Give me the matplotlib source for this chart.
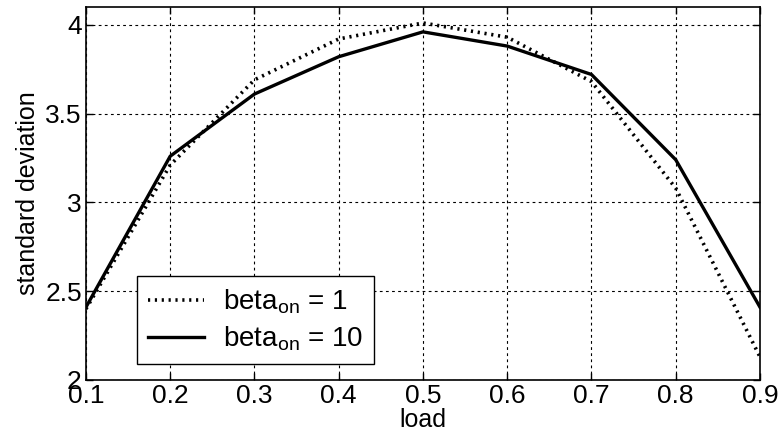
import matplotlib
matplotlib.use("Agg")
import matplotlib.pyplot as plt

plt.rcParams['font.family'] = ['Liberation Sans', 'DejaVu Sans']
plt.rcParams['mathtext.fontset'] = 'custom'
plt.rcParams['mathtext.rm'] = 'Liberation Sans'
plt.rcParams['mathtext.it'] = 'Liberation Sans'

load = [0.1, 0.2, 0.3, 0.4, 0.5, 0.6, 0.7, 0.8, 0.9]
std_beta1 = [2.40, 3.21, 3.69, 3.92, 4.01, 3.93, 3.68, 3.08, 2.13]
std_beta10 = [2.41, 3.26, 3.61, 3.82, 3.96, 3.88, 3.72, 3.24, 2.41]
labels = ['beta$_{\\rm on}$ = 1', 'beta$_{\\rm on}$ = 10']

fig = plt.figure(figsize=(7.83, 4.32), dpi=100)
ax = fig.add_axes([0.1098, 0.1204, 0.8608, 0.8634])

ax.plot(load, std_beta1, color='black', lw=2.6, linestyle=(0, (0.6, 1.3)), label=labels[0])
ax.plot(load, std_beta10, color='black', lw=2.4, linestyle='-', label=labels[1])

ax.set_xlim(0.1, 0.9)
ax.set_ylim(2, 4.1)
ax.set_xticks(load)
ax.set_xticklabels(['0.1', '0.2', '0.3', '0.4', '0.5', '0.6', '0.7', '0.8', '0.9'])
ax.set_yticks([2, 2.5, 3, 3.5, 4])
ax.set_yticklabels(['2', '2.5', '3', '3.5', '4'])
ax.tick_params(direction='in', length=5, width=1, labelsize=19, top=True, right=True, pad=3)
ax.grid(True, color='black', linestyle=(0, (2.5, 3)), linewidth=0.8)
for s in ax.spines.values():
    s.set_linewidth(1.2)

ax.set_xlabel('load', fontsize=18, labelpad=0)
ax.set_ylabel('standard deviation', fontsize=18, labelpad=4)

leg = ax.legend(loc='lower left', bbox_to_anchor=(0.0757, 0.043), borderaxespad=0,
                fontsize=20, fancybox=False, edgecolor='black', framealpha=1,
                handlelength=2.0, handletextpad=0.7, labelspacing=0.3)
leg.get_frame().set_linewidth(1.0)

fig.savefig('out.png', dpi=100)
